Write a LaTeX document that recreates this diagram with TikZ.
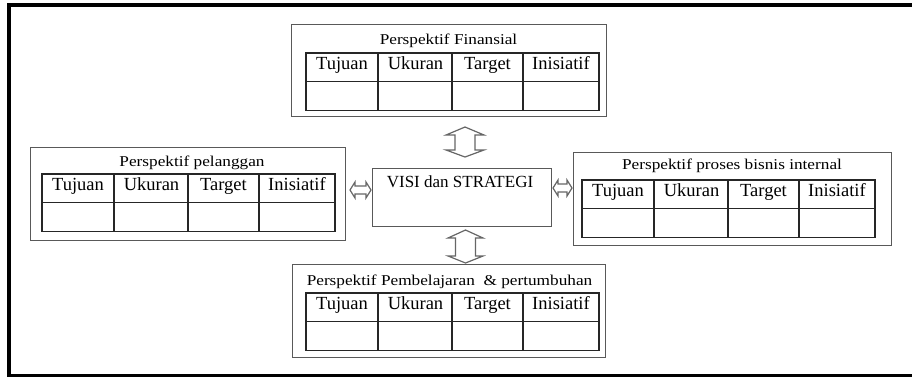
\documentclass[tikz,border=0pt]{standalone}
\usepackage{fontspec}
\setmainfont{Liberation Serif}
\newfontfamily\ttlfont{Liberation Serif}[FakeStretch=1.15]
\usetikzlibrary{fit}
\tikzset{
  frame/.style={line width=3.5pt, line cap=rect},
  pbox/.style={draw=black!65, line width=1pt, inner sep=0pt},
  tline/.style={draw=black!85, line width=1.1pt},
  cell/.style={anchor=base, inner sep=0pt, font=\fontsize{18.5}{20}\selectfont},
  ttl/.style={anchor=base, inner sep=0pt, font=\ttlfont\fontsize{15}{16}\selectfont},
  visi/.style={anchor=base, inner sep=0pt, font=\fontsize{17}{18}\selectfont},
  barrow/.style={draw=black!60, line width=1.2pt, fill=white, line join=miter},
}
% #1 name, #2 x0, #3 y0, #4 x1, #5 y1, #6 table x, #7 table y
\newcommand\perspbox[7]{%
  \node[pbox, fit={(#2,#3) (#4,#5)}] (#1) {};
  \draw[tline] (#6,#7) rectangle ++(293,57.5);
  \draw[tline] (#6,#7+28.5) -- ++(293,0);
  \foreach \c in {72,146,217} {\draw[tline] (#6+\c,#7) -- ++(0,57.5);}
  \node[cell] (#1-a) at (#6+36,#7+16) {Tujuan};
  \node[cell] (#1-b) at (#6+109.5,#7+16) {Ukuran};
  \node[cell] (#1-c) at (#6+181.5,#7+16) {Target};
  \node[cell] (#1-d) at (#6+255,#7+16) {Inisiatif};
}
\begin{document}
\begin{tikzpicture}[x=1pt,y=-1pt]
\useasboundingbox (0,0) rectangle (912,378);
\draw[frame] (914,5) -- (9,5) -- (9,375.5) -- (914,375.5);

\perspbox{fin}{291}{24}{606}{116}{306}{53}
\node[ttl] (fin-t) at (448.5,44) {Perspektif Finansial};

\perspbox{pel}{30}{147}{345}{240}{42}{174}
\node[ttl] (pel-t) at (192,166) {Perspektif pelanggan};

\perspbox{pro}{573}{152}{891}{245}{582}{180}
\node[ttl] (pro-t) at (732,169) {Perspektif proses bisnis internal};

\perspbox{pem}{292}{264}{605}{357}{306}{293}
\node[ttl] (pem-t) at (449.5,285) {Perspektif Pembelajaran\ \ \& pertumbuhan};

\node[pbox, fit={(372,168) (551,226)}] (visi) {};
\node[visi] (visi-t) at (460,187) {VISI dan STRATEGI};

% block double arrows
\draw[barrow] (465,127) -- (484,135) -- (475,135) -- (475,150) -- (484,150) -- (465,157)
  -- (446,150) -- (455,150) -- (455,135) -- (446,135) -- cycle;
\draw[barrow] (465.5,230) -- (483,238) -- (475.5,238) -- (475.5,256) -- (483,256) -- (465.5,263)
  -- (448,256) -- (455.5,256) -- (455.5,238) -- (448,238) -- cycle;
\draw[barrow] (350,190) -- (355,182) -- (355,186) -- (366,186) -- (366,182) -- (371,190)
  -- (366,198) -- (366,194) -- (355,194) -- (355,198) -- cycle;
\draw[barrow] (553,188) -- (558,180) -- (558,184) -- (567,184) -- (567,180) -- (572,188)
  -- (567,196) -- (567,192) -- (558,192) -- (558,196) -- cycle;
\end{tikzpicture}
\end{document}
